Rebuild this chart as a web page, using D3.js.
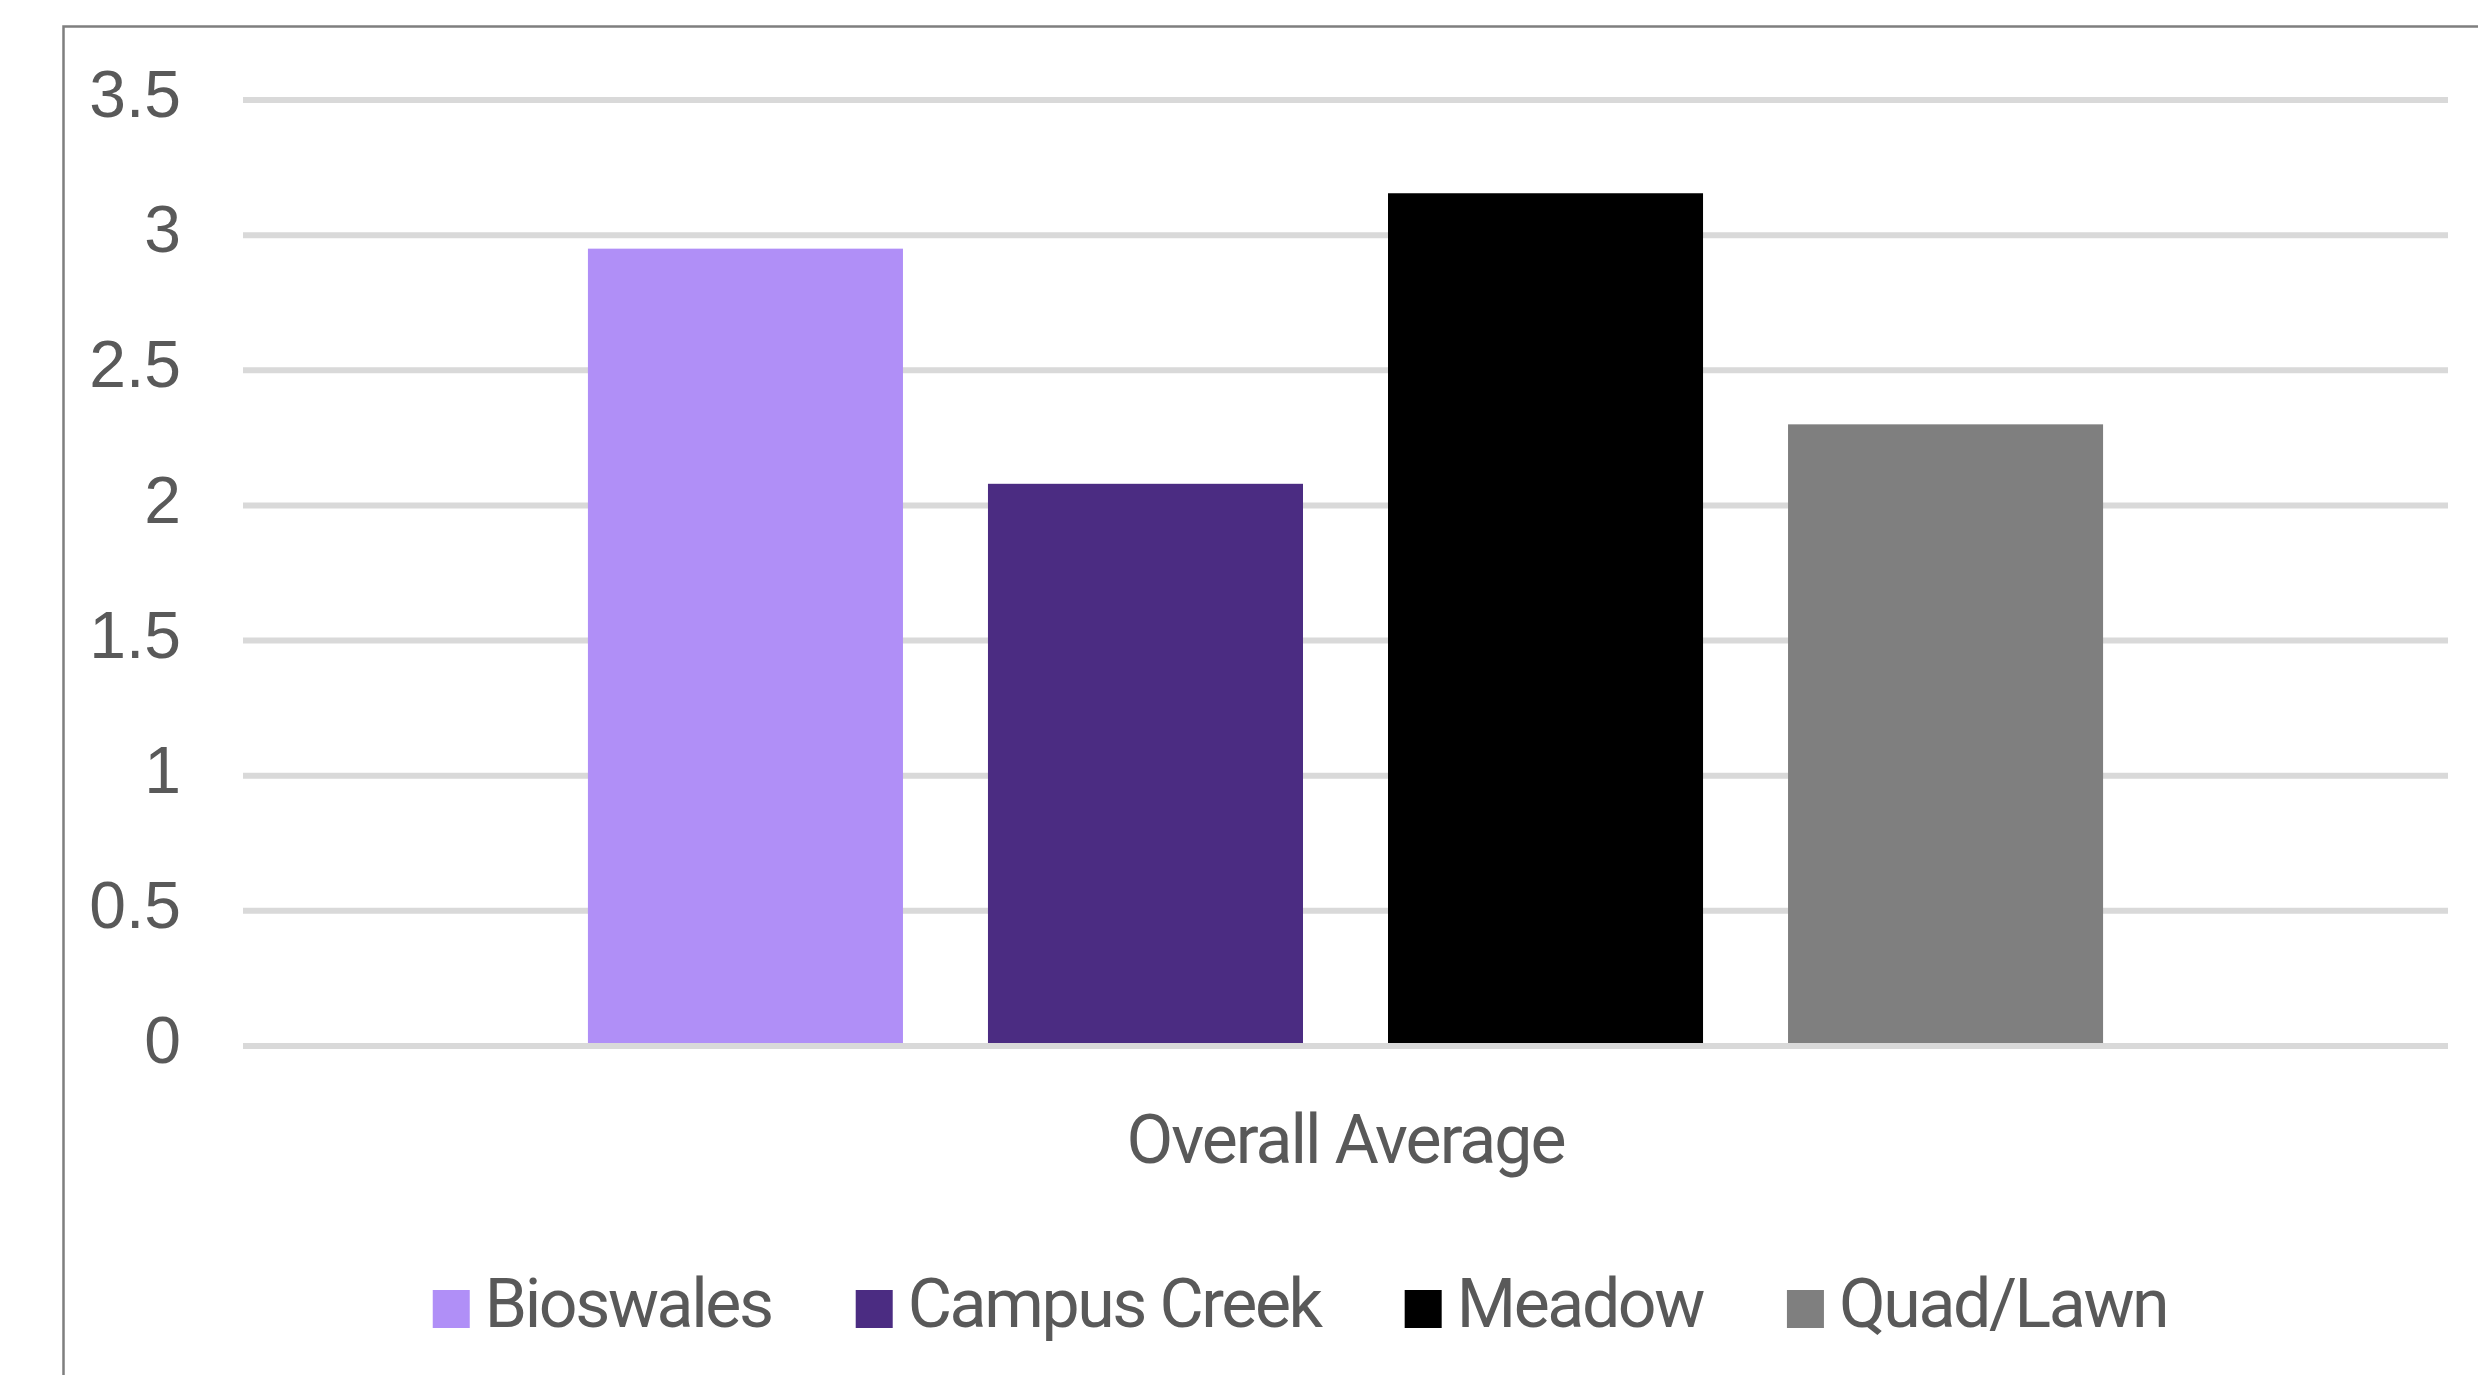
<!DOCTYPE html>
<html>
<head>
<meta charset="utf-8">
<script src="https://cdn.jsdelivr.net/npm/d3@7"></script>
<style>
  html,body{margin:0;padding:0;background:#fff;overflow:hidden;}
  svg{display:block;}
</style>
</head>
<body>
<svg id="chart" width="2478" height="1375"></svg>
<script>
const categories=["Overall Average"];
const seriesNames=["Bioswales","Campus Creek","Meadow","Quad/Lawn"];
const seriesValues=[2.95,2.08,3.155,2.3];
const seriesColors=["#b08ff7","#4b2c82","#000000","#7f7f7f"];
const yTicks=[0,0.5,1,1.5,2,2.5,3,3.5];

const svg=d3.select("#chart");
const width=2478, height=1375;
const plot={left:243,right:2448,top:100,bottom:1046};
const labelFont="Roboto, 'Open Sans', sans-serif";

// chart area border (runs off the right and bottom edges)
svg.append("rect")
  .attr("x",63.5).attr("y",26.5)
  .attr("width",width).attr("height",height)
  .attr("fill","#fff").attr("stroke","#7f7f7f").attr("stroke-width",2.5);

const y=d3.scaleLinear().domain([0,3.5]).range([plot.bottom,plot.top]);
const x0=d3.scaleBand().domain(categories).range([plot.left,plot.right]).paddingOuter(0.189);
const x1=d3.scaleBand().domain(seriesNames).range([0,x0.bandwidth()]).paddingInner(0.2125).paddingOuter(0.10625);

// gridlines
svg.append("g")
  .selectAll("line")
  .data(yTicks.filter(d=>d>0))
  .join("line")
  .attr("x1",plot.left).attr("x2",plot.right)
  .attr("y1",d=>y(d)).attr("y2",d=>y(d))
  .attr("stroke","#d9d9d9").attr("stroke-width",6);

// y labels
svg.append("g")
  .selectAll("text")
  .data(yTicks)
  .join("text")
  .attr("x",181)
  .attr("y",d=>y(d)-6)
  .attr("dy","0.35em")
  .attr("text-anchor","end")
  .attr("font-family","'Liberation Sans', Arial, sans-serif")
  .attr("font-size","66px")
  .attr("fill","#595959")
  .text(d=>d);

// bars
const data=seriesNames.map((s,i)=>({series:s,value:seriesValues[i],color:seriesColors[i]}));
svg.append("g")
  .attr("transform",`translate(${x0(categories[0])},0)`)
  .selectAll("rect")
  .data(data)
  .join("rect")
  .attr("x",d=>x1(d.series))
  .attr("y",d=>y(d.value))
  .attr("width",x1.bandwidth())
  .attr("height",d=>y(0)-y(d.value))
  .attr("fill",d=>d.color);

// category axis line
svg.append("line")
  .attr("x1",plot.left).attr("x2",plot.right)
  .attr("y1",y(0)).attr("y2",y(0))
  .attr("stroke","#d9d9d9").attr("stroke-width",6);

// category label
svg.append("text")
  .attr("x",x0(categories[0])+x0.bandwidth()/2)
  .attr("y",1163)
  .attr("text-anchor","middle")
  .attr("font-family",labelFont)
  .attr("font-size","68px")
  .attr("letter-spacing","-2px")
  .attr("fill","#595959")
  .text(categories[0]);

// legend
const legend=svg.append("g");
const items=legend.selectAll("g")
  .data(data)
  .join("g");
items.append("rect")
  .attr("width",37).attr("height",38)
  .attr("y",1290)
  .attr("fill",d=>d.color);
items.append("text")
  .attr("x",52)
  .attr("y",1327)
  .attr("font-family",labelFont)
  .attr("font-size","68px")
  .attr("letter-spacing","-2.4px")
  .attr("fill","#595959")
  .text(d=>d.series);

let cx=0;
const gap=84;
const offsets=[];
items.each(function(){
  const w=52+this.querySelector("text").getComputedTextLength();
  offsets.push(cx);
  cx+=w+gap;
});
const total=cx-gap;
const startX=1300-total/2;
items.attr("transform",(d,i)=>`translate(${startX+offsets[i]},0)`);
</script>
</body>
</html>
